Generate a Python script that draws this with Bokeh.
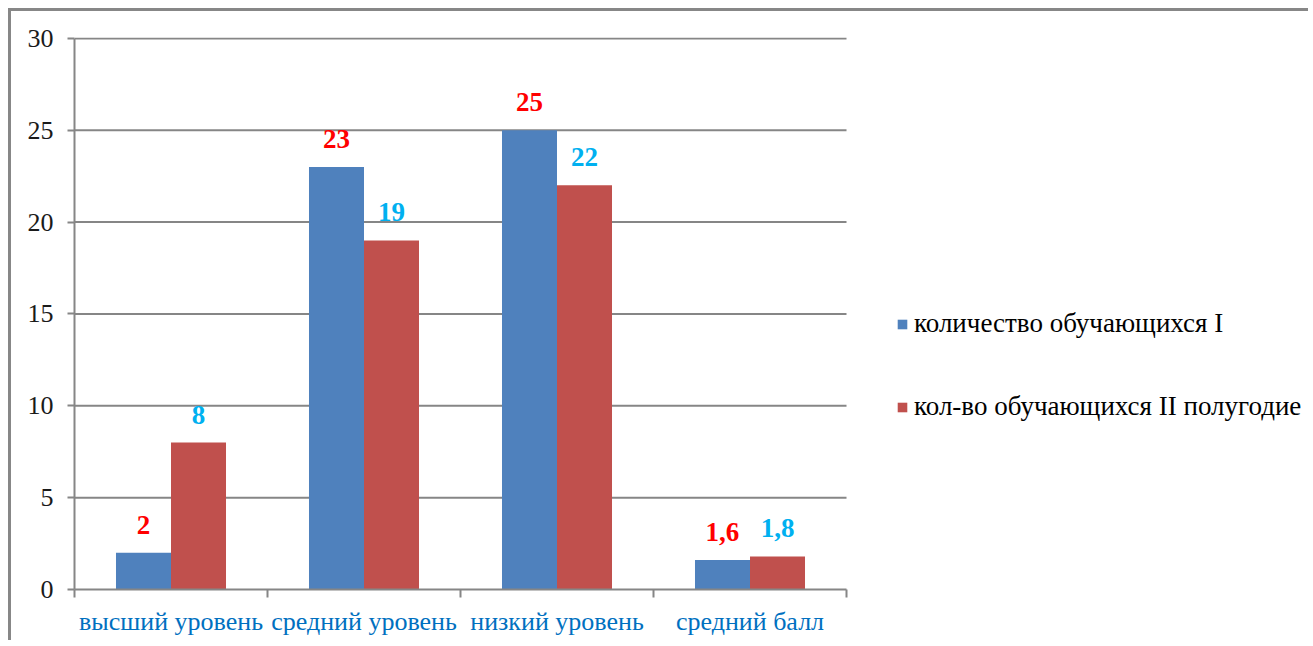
from bokeh.plotting import figure
from bokeh.models import ColumnDataSource, FixedTicker, Range1d, Legend, LegendItem
from bokeh.core.properties import value
from bokeh.embed import file_html
from bokeh.resources import INLINE

categories = ["высший уровень", "средний уровень", "низкий уровень", "средний балл"]
series1_name = "количество обучающихся I"
series2_name = "кол-во обучающихся II полугодие"
series1 = [2, 23, 25, 1.6]
series2 = [8, 19, 22, 1.8]
labels1 = ["2", "23", "25", "1,6"]
labels2 = ["8", "19", "22", "1,8"]
y_ticks = [0, 5, 10, 15, 20, 25, 30]

n = len(categories)
centers = [i + 0.5 for i in range(n)]
bounds = [float(i) for i in range(n + 1)]
off = 0.1425
w = 0.285

src = ColumnDataSource(dict(
    x1=[c - off for c in centers], x2=[c + off for c in centers],
    y1=series1, y2=series2, l1=labels1, l2=labels2))
grid_src = ColumnDataSource(dict(
    x0=[0] * (len(y_ticks) - 1), x1=[n] * (len(y_ticks) - 1), y=y_ticks[1:]))

SERIF = value("Liberation Serif")
GRAY = "#868686"
W, H = 1300, 632
CAT_PX = 193.0
FRAME_W = W - 63
x_end = FRAME_W / CAT_PX

p = figure(width=W, height=H, x_range=Range1d(0, x_end),
           y_range=Range1d(0, 30.05), output_backend="svg", toolbar_location=None,
           min_border_left=63, min_border_top=26, min_border_bottom=54,
           min_border_right=0)
p.margin = (8, 0, 0, 8)
p.styles = {"border-top": "3px solid #878787", "border-left": "3px solid #878787"}
p.outline_line_color = None
p.background_fill_color = "white"
p.border_fill_color = "white"
p.xgrid.visible = False
p.ygrid.visible = False

p.segment(x0="x0", x1="x1", y0="y", y1="y", line_color=GRAY, line_width=2,
          source=grid_src)

r1 = p.vbar(x="x1", top="y1", bottom=0, width=w, fill_color="#4F81BD",
            line_color=None, source=src)
r2 = p.vbar(x="x2", top="y2", bottom=0, width=w, fill_color="#C0504D",
            line_color=None, source=src)

p.text(x="x1", y="y1", text="l1", text_align="center", text_baseline="alphabetic",
       y_offset=-28, text_font=SERIF, text_font_style="bold", text_font_size="27px",
       text_color="#FF0000", source=src)
p.text(x="x2", y="y2", text="l2", text_align="center", text_baseline="alphabetic",
       y_offset=-28, text_font=SERIF, text_font_style="bold", text_font_size="27px",
       text_color="#00B0F0", source=src)

xa = p.xaxis[0]
xa.bounds = (0, n)
xa.ticker = FixedTicker(ticks=centers, minor_ticks=bounds)
xa.major_label_overrides = {c: cat for c, cat in zip(centers, categories)}
xa.major_tick_line_color = None
xa.major_tick_out = 0
xa.major_tick_in = 0
xa.minor_tick_out = 8
xa.minor_tick_in = 0
xa.minor_tick_line_color = GRAY
xa.minor_tick_line_width = 2
xa.axis_line_color = GRAY
xa.axis_line_width = 2
xa.major_label_standoff = 9
xa.major_label_text_font = "Liberation Serif"
xa.major_label_text_font_size = "26px"
xa.major_label_text_color = "#0070C0"

ya = p.yaxis[0]
ya.bounds = (0, 30)
ya.ticker = FixedTicker(ticks=y_ticks)
ya.major_tick_out = 7
ya.major_tick_in = 0
ya.minor_tick_line_color = None
ya.major_tick_line_color = GRAY
ya.major_tick_line_width = 2
ya.axis_line_color = GRAY
ya.axis_line_width = 2
ya.major_label_standoff = 14
ya.major_label_text_font = "Liberation Serif"
ya.major_label_text_font_size = "26px"
ya.major_label_text_color = "#1a1a1a"

legend = Legend(items=[LegendItem(label=series1_name, renderers=[r1]),
                       LegendItem(label=series2_name, renderers=[r2])],
                location=(822, 167), orientation="vertical")
legend.border_line_color = None
legend.background_fill_alpha = 0
legend.padding = 0
legend.margin = 0
legend.glyph_width = 12
legend.glyph_height = 12
legend.label_height = 27
legend.label_standoff = 6
legend.spacing = 52
legend.label_text_font = "Liberation Serif"
legend.label_text_font_size = "27px"
legend.label_text_color = "#000000"
p.add_layout(legend, "center")

open("out.html", "w").write(file_html(p, INLINE))
